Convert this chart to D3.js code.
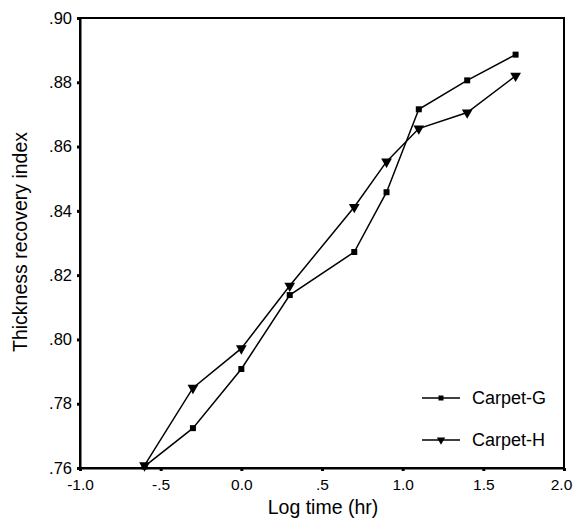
<!DOCTYPE html>
<html><head><meta charset="utf-8">
<script src="https://cdn.jsdelivr.net/npm/d3@7"></script>
<style>body{margin:0;background:#fff}svg{display:block}text{font-family:"Liberation Sans",Arial,sans-serif;fill:#000}</style>
</head><body><svg id="c" width="574" height="518"></svg>
<script>
const logTime = [-0.6, -0.3, 0.0, 0.3, 0.7, 0.9, 1.1, 1.4, 1.7];
const carpetG = [0.7605, 0.7724, 0.7908, 0.8138, 0.8272, 0.8458, 0.8716, 0.8806, 0.8886];
const carpetH = [0.7608, 0.7849, 0.7972, 0.8167, 0.8412, 0.8553, 0.8656, 0.8706, 0.8820];
const xTicks = [-1.0, -0.5, 0.0, 0.5, 1.0, 1.5, 2.0];
const xTickLabels = ["-1.0", "-.5", "0.0", ".5", "1.0", "1.5", "2.0"];
const yTicks = [0.76, 0.78, 0.80, 0.82, 0.84, 0.86, 0.88, 0.90];
const yTickLabels = [".76", ".78", ".80", ".82", ".84", ".86", ".88", ".90"];
const seriesNames = ["Carpet-G", "Carpet-H"];

const svg = d3.select("#c");
const L = 80, R = 564, T = 18, B = 468;
const x = d3.scaleLinear().domain([-1, 2]).range([L, R]);
const y = d3.scaleLinear().domain([0.76, 0.90]).range([B, T]);

svg.append("rect").attr("x", L).attr("y", T).attr("width", R - L).attr("height", B - T)
  .attr("fill", "none").attr("stroke", "#000").attr("stroke-width", 2);

const xAxis = d3.axisBottom(x).tickValues(xTicks).tickFormat((d, i) => xTickLabels[i]).tickSizeInner(3).tickSizeOuter(0).tickPadding(8);
const gx = svg.append("g").attr("transform", `translate(0,${B})`).call(xAxis);
gx.select(".domain").attr("stroke-width", 2);
gx.selectAll(".tick line").attr("stroke-width", 3);
gx.selectAll("text").style("font-size", "15.5px").attr("fill", "#000");
gx.selectAll(".tick").filter(d => d === 2).select("text").attr("dx", -3);

const yAxis = d3.axisLeft(y).tickValues(yTicks).tickFormat((d, i) => yTickLabels[i]).tickSizeInner(3).tickSizeOuter(0).tickPadding(5);
const gy = svg.append("g").attr("transform", `translate(${L},0)`).call(yAxis);
gy.select(".domain").attr("stroke-width", 2);
gy.selectAll(".tick line").attr("stroke-width", 3);
gy.selectAll("text").style("font-size", "16.5px").attr("fill", "#000");

const line = d3.line().x((d, i) => x(logTime[i])).y(d => y(d));
const sq = d3.symbol().type(d3.symbolSquare).size(36);
const tri = d3.symbol().type(d3.symbolTriangle).size(50);

function drawSeries(vals, sym, rot) {
  svg.append("path").datum(vals).attr("d", line).attr("fill", "none").attr("stroke", "#000").attr("stroke-width", 1.5);
  svg.selectAll(null).data(vals).enter().append("path")
    .attr("d", sym)
    .attr("transform", (d, i) => `translate(${x(logTime[i])},${y(d)}) rotate(${rot})`)
    .attr("fill", "#000");
}
drawSeries(carpetG, sq, 0);
drawSeries(carpetH, tri, 180);

const leg = [{name: seriesNames[0], sym: d3.symbol().type(d3.symbolSquare).size(25), rot: 0, yy: 398},
             {name: seriesNames[1], sym: d3.symbol().type(d3.symbolTriangle).size(30), rot: 180, yy: 440}];
leg.forEach(l => {
  svg.append("line").attr("x1", 422).attr("x2", 460).attr("y1", l.yy).attr("y2", l.yy).attr("stroke", "#000").attr("stroke-width", 1.5);
  svg.append("path").attr("d", l.sym()).attr("transform", `translate(441,${l.yy}) rotate(${l.rot})`).attr("fill", "#000");
  svg.append("text").attr("x", 472).attr("y", l.yy).attr("dy", "0.35em").style("font-size", "18px").text(l.name);
});

svg.append("text").attr("x", 323).attr("y", 514).attr("text-anchor", "middle").style("font-size", "19.5px").text("Log time (hr)");
svg.append("text").attr("transform", "translate(27,242) rotate(-90)").attr("text-anchor", "middle").style("font-size", "19.5px").text("Thickness recovery index");
</script></body></html>
